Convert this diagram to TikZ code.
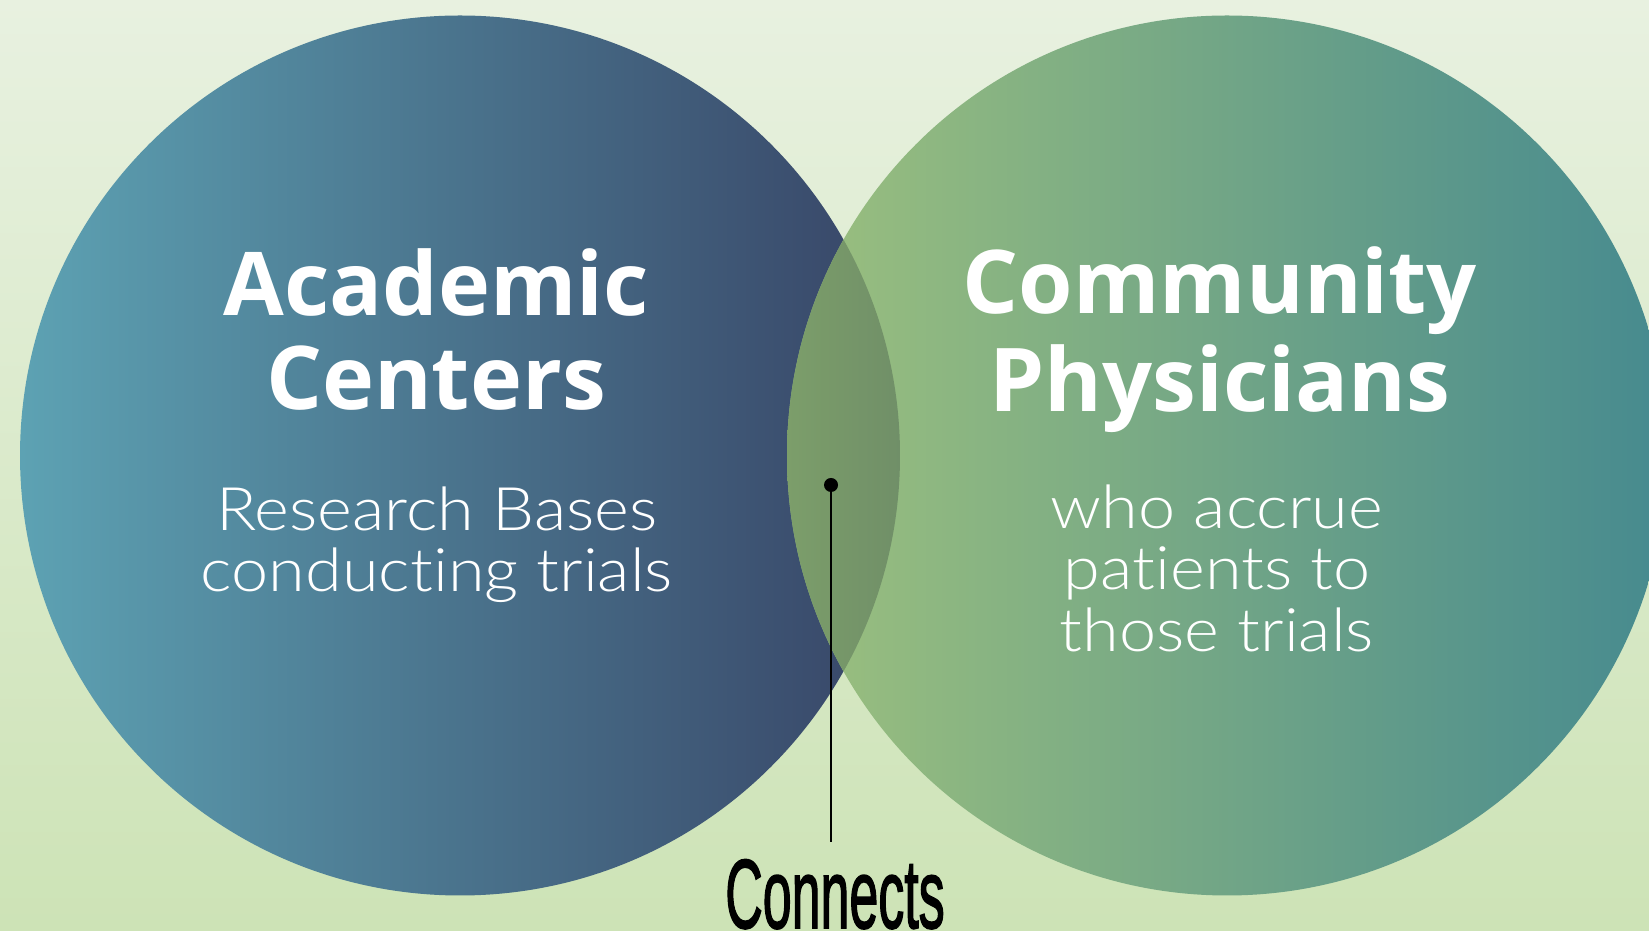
\documentclass[tikz,border=0pt]{standalone}
\usepackage{fontspec}
\setmainfont{Lato}
\newfontfamily\headfont{Open Sans}
\newfontfamily\lightfont[FakeStretch=1.11,Ligatures=NoCommon]{Lato Light}
\newfontfamily\connfont[FakeBold=2]{Liberation Sans}
\definecolor{bgtop}{RGB}{232,241,224}
\definecolor{bgbot}{RGB}{205,227,182}
\definecolor{Lleft}{RGB}{93,162,179}
\definecolor{Lright}{RGB}{55,68,102}
\definecolor{Rleft}{RGB}{156,192,126}
\definecolor{Rright}{RGB}{70,138,143}
\definecolor{lensL}{RGB}{124,158,106}
\definecolor{lensR}{RGB}{112,143,104}
\tikzset{
  headtext/.style={text=white, font=\headfont\fontsize{88}{98}\selectfont\bfseries, inner sep=0, anchor=base},
  subtext/.style={text=white, font=\lightfont\fontsize{60}{60}\selectfont, inner sep=0, anchor=base},
  conntext/.style={text=black, inner sep=0, anchor=base},
}
\begin{document}
\begin{tikzpicture}[x=1pt,y=1pt]
\useasboundingbox (0,0) rectangle (1649,931);
\clip (0,0) rectangle (1649,931);
\shade[top color=bgtop, bottom color=bgbot] (0,0) rectangle (1649,931);
\shade[left color=Lleft, right color=Lright] (460,475.5) circle (440);
\shade[left color=Rleft, right color=Rright] (1227,475.5) circle (440);
\begin{scope}
  \clip (460,475.5) circle (440);
  \clip (1227,475.5) circle (440);
  \shade[left color=lensL, right color=lensR] (787,0) rectangle (900,931);
\end{scope}
% texts
\node[headtext] (ac1) at (436,615) {Academic};
\node[headtext] (ac2) at (436,521) {Centers};
\node[subtext] (ac3) at (437,400) {Research Bases};
\node[subtext] (ac4) at (437,339) {conducting trials};
\node[headtext] (cp1) at (1220,617) {Community};
\node[headtext] (cp2) at (1220,519) {Physicians};
\node[subtext] (cp3) at (1217,402) {who accrue};
\node[subtext] (cp4) at (1217,341) {patients to};
\node[subtext] (cp5) at (1217,279) {those trials};
% connector
\node[circle, fill=black, inner sep=0, minimum size=14pt] (dot) at (831,446) {};
\coordinate (lineend) at (831,89);
\draw[line width=2.6pt] (dot.center) -- (lineend);
\node[conntext] (conn) at (835,3) {\scalebox{0.53}[1]{\connfont\fontsize{98}{98}\selectfont Connects}};
\end{tikzpicture}
\end{document}
